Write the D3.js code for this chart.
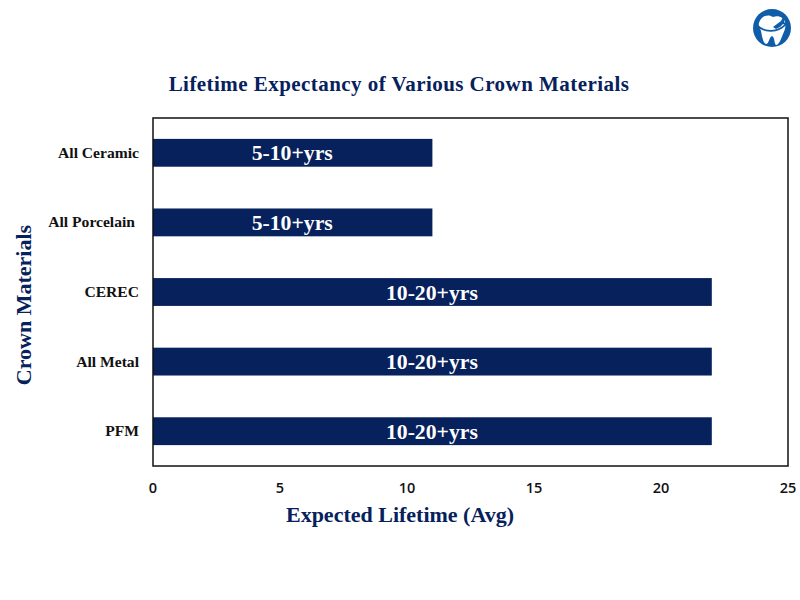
<!DOCTYPE html>
<html><head><meta charset="utf-8">
<script src="https://cdn.jsdelivr.net/npm/d3@7/dist/d3.min.js"></script>
<style>html,body{margin:0;padding:0;background:#fff}svg{display:block}</style></head>
<body><svg id="c" width="800" height="600"></svg>
<script>
const categories = ["All Ceramic","All Porcelain","CEREC","All Metal","PFM"];
const lifetimes = [11,11,22,22,22];
const barLabels = ["5-10+yrs","5-10+yrs","10-20+yrs","10-20+yrs","10-20+yrs"];
const xTicks = [0,5,10,15,20,25];
const navy = "#06215c", serif = "'Liberation Serif','Times New Roman',serif";
const svg = d3.select("#c");
const L=153,R=788,T=118,B=466;
const x = d3.scaleLinear().domain([0,25]).range([L,R]);
const y = d3.scaleBand().domain(categories).range([T,B]).paddingInner(0.6).paddingOuter(0.3);

svg.selectAll("rect.bar").data(categories).join("rect").attr("class","bar")
  .attr("x",x(0)).attr("y",d=>y(d)).attr("width",(d,i)=>x(lifetimes[i])-x(0)).attr("height",y.bandwidth()).attr("fill",navy);
svg.append("rect").attr("x",L).attr("y",T).attr("width",R-L).attr("height",B-T).attr("fill","none").attr("stroke","#111").attr("stroke-width",1.5);

svg.selectAll("text.val").data(categories).join("text").attr("class","val")
  .attr("x",(d,i)=>x(lifetimes[i]/2)-0.5).attr("y",d=>y(d)+y.bandwidth()/2+7.5)
  .attr("text-anchor","middle").attr("fill","#fff").attr("font-family",serif).attr("font-weight","bold").attr("font-size",21.7)
  .text((d,i)=>barLabels[i]);

const catX=[139,135,139,139,139];
svg.selectAll("text.cat").data(categories).join("text").attr("class","cat")
  .attr("x",(d,i)=>catX[i]).attr("y",d=>y(d)+y.bandwidth()/2+5)
  .attr("text-anchor","end").attr("fill","#111").attr("font-family",serif).attr("font-weight","bold").attr("font-size",15.6)
  .text(d=>d);

svg.selectAll("text.tick").data(xTicks).join("text").attr("class","tick")
  .attr("x",d=>x(d)).attr("y",493).attr("text-anchor","middle").attr("fill","#111")
  .attr("font-family","'Open Sans',sans-serif").attr("font-weight","600").attr("font-size",14.5).text(d=>d);

svg.append("text").attr("x",399).attr("y",91).attr("text-anchor","middle").attr("fill",navy).attr("font-family",serif)
  .attr("font-weight","bold").attr("font-size",21).attr("letter-spacing",0.45).text("Lifetime Expectancy of Various Crown Materials");
svg.append("text").attr("x",400).attr("y",522).attr("text-anchor","middle").attr("fill",navy).attr("font-family",serif)
  .attr("font-weight","bold").attr("font-size",22).text("Expected Lifetime (Avg)");
svg.append("text").attr("transform","translate(31,305) rotate(-90)").attr("text-anchor","middle").attr("fill",navy).attr("font-family",serif)
  .attr("font-weight","bold").attr("font-size",22).text("Crown Materials");

// logo
const g = svg.append("g").attr("transform","translate(772,28)");
g.append("circle").attr("r",19).attr("fill","#0f5ca8");
g.append("path").attr("fill","#fff").attr("d","M-13,-5C-11,-13 -3,-14 1,-11C7,-13 12,-10 13,-6C14,-2 13,2 11,6C9,11 7,17 4,17C2,16 3,9 0,8C-3,9 -3,16 -6,16C-9,15 -10,8 -11,3C-12,0 -14,-2 -13,-5Z");
g.append("path").attr("fill","none").attr("stroke","#0f5ca8").attr("stroke-width",1.8).attr("d","M-15,-3C-8,5 6,5 14,-4");
g.append("path").attr("fill","#0f5ca8").attr("d","M1,-1L9,-7L11,-11L13,-10L12,-6L16,-3L15,-2L11,-4L8,-1L4,1Z");
</script></body></html>
